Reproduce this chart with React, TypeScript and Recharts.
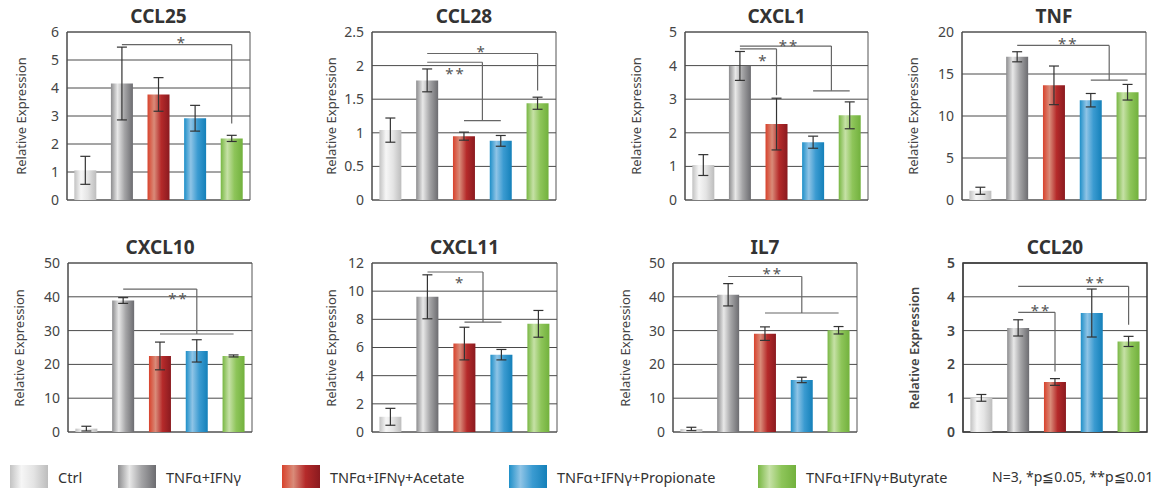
import React from "react";
import { Bar, BarChart, CartesianGrid, Cell, ErrorBar, ReferenceArea, ReferenceDot, ReferenceLine, XAxis, YAxis } from "recharts";

const groups = ["Ctrl", "TNFα+IFNγ", "TNFα+IFNγ+Acetate", "TNFα+IFNγ+Propionate", "TNFα+IFNγ+Butyrate"];

const ccl25Mean = [1.06, 4.16, 3.77, 2.92, 2.2];
const ccl25Err = [0.5, 1.3, 0.6, 0.46, 0.11];
const ccl28Mean = [1.04, 1.78, 0.95, 0.88, 1.44];
const ccl28Err = [0.18, 0.17, 0.06, 0.08, 0.09];
const cxcl1Mean = [1.04, 3.99, 2.26, 1.72, 2.52];
const cxcl1Err = [0.31, 0.43, 0.77, 0.18, 0.4];
const tnfMean = [1.1, 17.05, 13.65, 11.88, 12.83];
const tnfErr = [0.42, 0.6, 2.3, 0.8, 0.93];
const cxcl10Mean = [1.0, 38.9, 22.5, 24.0, 22.5];
const cxcl10Err = [0.7, 0.85, 4.1, 3.3, 0.3];
const cxcl11Mean = [1.08, 9.6, 6.28, 5.49, 7.68];
const cxcl11Err = [0.6, 1.56, 1.16, 0.37, 0.95];
const il7Mean = [0.9, 40.6, 29.1, 15.4, 30.1];
const il7Err = [0.5, 3.3, 2.0, 0.8, 1.1];
const ccl20Mean = [1.01, 3.08, 1.48, 3.52, 2.68];
const ccl20Err = [0.1, 0.24, 0.1, 0.71, 0.15];

const ticks6 = [0, 1, 2, 3, 4, 5, 6];
const ticks25 = [0, 0.5, 1, 1.5, 2, 2.5];
const ticks5 = [0, 1, 2, 3, 4, 5];
const ticks20 = [0, 5, 10, 15, 20];
const ticks50 = [0, 10, 20, 30, 40, 50];
const ticks12 = [0, 2, 4, 6, 8, 10, 12];

// bracket: from group x1 at level "top" across to x2, down to "low"; optional foot spanning f1..f2 at "low"
type Bracket = { x1: number; x2: number; top: number; low: number; f1?: number; f2?: number };
type Mark = { x: number; y: number; text: string };

const ccl25Brackets: Bracket[] = [{ x1: 1, x2: 4, top: 5.55, low: 2.73 }];
const ccl25Marks: Mark[] = [{ x: 2.64, y: 5.76, text: "*" }];
const ccl28Brackets: Bracket[] = [
  { x1: 1, x2: 4, top: 2.18, low: 1.63 },
  { x1: 1, x2: 2.5, top: 2.05, low: 1.18, f1: 2, f2: 3 },
];
const ccl28Marks: Mark[] = [{ x: 2.48, y: 2.26, text: "*" }, { x: 1.77, y: 1.94, text: "**" }];
const cxcl1Brackets: Bracket[] = [
  { x1: 1, x2: 3.5, top: 4.58, low: 3.25, f1: 3, f2: 4 },
  { x1: 1, x2: 2, top: 4.5, low: 3.12 },
];
const cxcl1Marks: Mark[] = [{ x: 2.34, y: 4.7, text: "**" }, { x: 1.64, y: 4.28, text: "*" }];
const tnfBrackets: Bracket[] = [{ x1: 1, x2: 3.5, top: 18.4, low: 14.26, f1: 3, f2: 4 }];
const tnfMarks: Mark[] = [{ x: 2.39, y: 19.1, text: "**" }];
const cxcl10Brackets: Bracket[] = [{ x1: 1, x2: 3, top: 42.3, low: 29.0, f1: 2, f2: 4 }];
const cxcl10Marks: Mark[] = [{ x: 2.5, y: 40.6, text: "**" }];
const cxcl11Brackets: Bracket[] = [{ x1: 1, x2: 2.5, top: 11.36, low: 7.8, f1: 2, f2: 3 }];
const cxcl11Marks: Mark[] = [{ x: 1.88, y: 10.86, text: "*" }];
const il7Brackets: Bracket[] = [{ x1: 1, x2: 3, top: 46.0, low: 35.2, f1: 2, f2: 4 }];
const il7Marks: Mark[] = [{ x: 2.21, y: 48.0, text: "**" }];
const ccl20Brackets: Bracket[] = [
  { x1: 1, x2: 2, top: 3.54, low: 1.79 },
  { x1: 1, x2: 4, top: 4.31, low: 3.17 },
];
const ccl20Marks: Mark[] = [{ x: 1.62, y: 3.72, text: "**" }, { x: 3.11, y: 4.54, text: "**" }];

const gradients = [
  ["#c2c2c2", "#f6f6f6", "#e4e4e4", "#bdbdbd"],
  ["#8c8c8e", "#e8e8e8", "#a4a4a6", "#6c6c70"],
  ["#d8422c", "#d98b79", "#b52a2a", "#8a1a1f"],
  ["#1e8fc8", "#8fc4e6", "#3b9bd1", "#1480b9"],
  ["#78b743", "#c6e1a6", "#8ec55a", "#72b13d"],
];
const stops = [0, 30, 62, 100];

const font = '"Noto Sans", sans-serif';

function Panel(props: {
  title: string; max: number; ticks: number[]; mean: number[]; err: number[];
  brackets: Bracket[]; marks: Mark[]; left: number; top: number; w: number; h: number;
  labelGap: number; bold?: boolean;
}) {
  const { title, max, ticks, mean, err, brackets, marks, left, top, w, h, labelGap, bold } = props;
  const rows = groups.map((g, i) => ({ g, i, v: mean[i], e: err[i] }));
  const ax = 36;
  const pad = 12;
  return (
    <>
      <div style={{ position: "absolute", left, top: top - 26, width: w, textAlign: "center", fontFamily: font, fontWeight: 700, fontSize: 19, lineHeight: "20px", color: "#333" }}>{title}</div>
      <div style={{ position: "absolute", left: left - labelGap - 80, top: top + h / 2 - 9, width: 160, height: 18, textAlign: "center", transform: "rotate(-90deg)", fontFamily: font, fontSize: 13, lineHeight: "18px", color: "#444", fontWeight: bold ? 600 : 400 }}>Relative Expression</div>
      <div style={{ position: "absolute", left: left - ax, top: top - pad }}>
        <BarChart width={w + ax + 6} height={h + pad * 2} data={rows} margin={{ top: pad, right: 6, bottom: pad, left: 0 }} barCategoryGap="20%">
          <CartesianGrid vertical={false} stroke="#4a4a4a" />
          <XAxis dataKey="g" hide />
          <XAxis xAxisId="n" dataKey="i" type="number" domain={[-0.5, 4.5]} hide allowDataOverflow />
          <YAxis domain={[0, max]} ticks={ticks} width={ax} tickLine={false} axisLine={{ stroke: "#444" }} tick={{ fill: "#444", fontSize: 14, fontFamily: font, fontWeight: bold ? 600 : 400 }} interval={0} />
          <ReferenceArea xAxisId="n" x1={-0.5} x2={4.5} y1={0} y2={max} fill="none" stroke={bold ? "#333" : "#555"} strokeWidth={bold ? 1.5 : 1} />
          <Bar dataKey="v" isAnimationActive={false}>
            {rows.map((r) => <Cell key={r.i} fill={`url(#grad${r.i})`} />)}
            <ErrorBar dataKey="e" width={5} stroke="#333" strokeWidth={1.2} />
          </Bar>
          {brackets.map((b, k) => (
            <ReferenceLine key={`t${k}`} xAxisId="n" segment={[{ x: b.x1, y: b.top }, { x: b.x2, y: b.top }]} stroke="#666" strokeWidth={1.2} />
          ))}
          {brackets.map((b, k) => (
            <ReferenceLine key={`d${k}`} xAxisId="n" segment={[{ x: b.x2, y: b.top }, { x: b.x2, y: b.low }]} stroke="#666" strokeWidth={1.2} />
          ))}
          {brackets.filter((b) => b.f1 !== undefined).map((b, k) => (
            <ReferenceLine key={`f${k}`} xAxisId="n" segment={[{ x: b.f1 as number, y: b.low }, { x: b.f2 as number, y: b.low }]} stroke="#666" strokeWidth={1.2} />
          ))}
          {marks.map((m, k) => (
            <ReferenceDot key={`m${k}`} xAxisId="n" x={m.x} y={m.y} r={0} fill="none" stroke="none"
              label={{ value: m.text, position: "center", fill: "#555", fontSize: 15, fontFamily: font, letterSpacing: 2, dy: 4 }} />
          ))}
        </BarChart>
      </div>
    </>
  );
}

const legendX = [10, 118, 282, 509, 758];

export default function App() {
  return (
    <div style={{ position: "relative", width: 1156, height: 490, background: "#fff", overflow: "hidden" }}>
      <style>{"body{margin:0}"}</style>
      <svg width={0} height={0} style={{ position: "absolute" }}>
        <defs>
          {gradients.map((g, i) => (
            <linearGradient key={i} id={`grad${i}`} x1="0" y1="0" x2="1" y2="0">
              {g.map((c, j) => <stop key={j} offset={`${stops[j]}%`} stopColor={c} />)}
            </linearGradient>
          ))}
        </defs>
      </svg>
      <Panel title="CCL25" max={6} ticks={ticks6} mean={ccl25Mean} err={ccl25Err} brackets={ccl25Brackets} marks={ccl25Marks} left={67} top={32} w={183} h={168} labelGap={46} />
      <Panel title="CCL28" max={2.5} ticks={ticks25} mean={ccl28Mean} err={ccl28Err} brackets={ccl28Brackets} marks={ccl28Marks} left={372} top={32} w={184} h={168} labelGap={41} />
      <Panel title="CXCL1" max={5} ticks={ticks5} mean={cxcl1Mean} err={cxcl1Err} brackets={cxcl1Brackets} marks={cxcl1Marks} left={685} top={32} w={183} h={168} labelGap={49} />
      <Panel title="TNF" max={20} ticks={ticks20} mean={tnfMean} err={tnfErr} brackets={tnfBrackets} marks={tnfMarks} left={962} top={32} w={184} h={168} labelGap={49} />
      <Panel title="CXCL10" max={50} ticks={ticks50} mean={cxcl10Mean} err={cxcl10Err} brackets={cxcl10Brackets} marks={cxcl10Marks} left={68} top={263} w={184} h={169} labelGap={49} />
      <Panel title="CXCL11" max={12} ticks={ticks12} mean={cxcl11Mean} err={cxcl11Err} brackets={cxcl11Brackets} marks={cxcl11Marks} left={372} top={263} w={185} h={169} labelGap={41} />
      <Panel title="IL7" max={50} ticks={ticks50} mean={il7Mean} err={il7Err} brackets={il7Brackets} marks={il7Marks} left={673} top={263} w={184} h={169} labelGap={48} />
      <Panel title="CCL20" max={5} ticks={ticks5} mean={ccl20Mean} err={ccl20Err} brackets={ccl20Brackets} marks={ccl20Marks} left={963} top={263} w={184} h={169} labelGap={49} bold />
      {groups.map((g, i) => (
        <React.Fragment key={g}>
          <div style={{ position: "absolute", left: legendX[i], top: 465, width: 38, height: 23, background: `linear-gradient(to right, ${gradients[i].map((c, j) => `${c} ${stops[j]}%`).join(", ")})` }} />
          <div style={{ position: "absolute", left: legendX[i] + 48, top: 467, fontFamily: font, fontSize: 14.5, lineHeight: "20px", color: "#333", whiteSpace: "nowrap" }}>{g}</div>
        </React.Fragment>
      ))}
      <div style={{ position: "absolute", left: 992, top: 467, fontFamily: font, fontSize: 14, lineHeight: "20px", color: "#333", whiteSpace: "nowrap" }}>N=3, *p≦0.05, **p≦0.01</div>
    </div>
  );
}
